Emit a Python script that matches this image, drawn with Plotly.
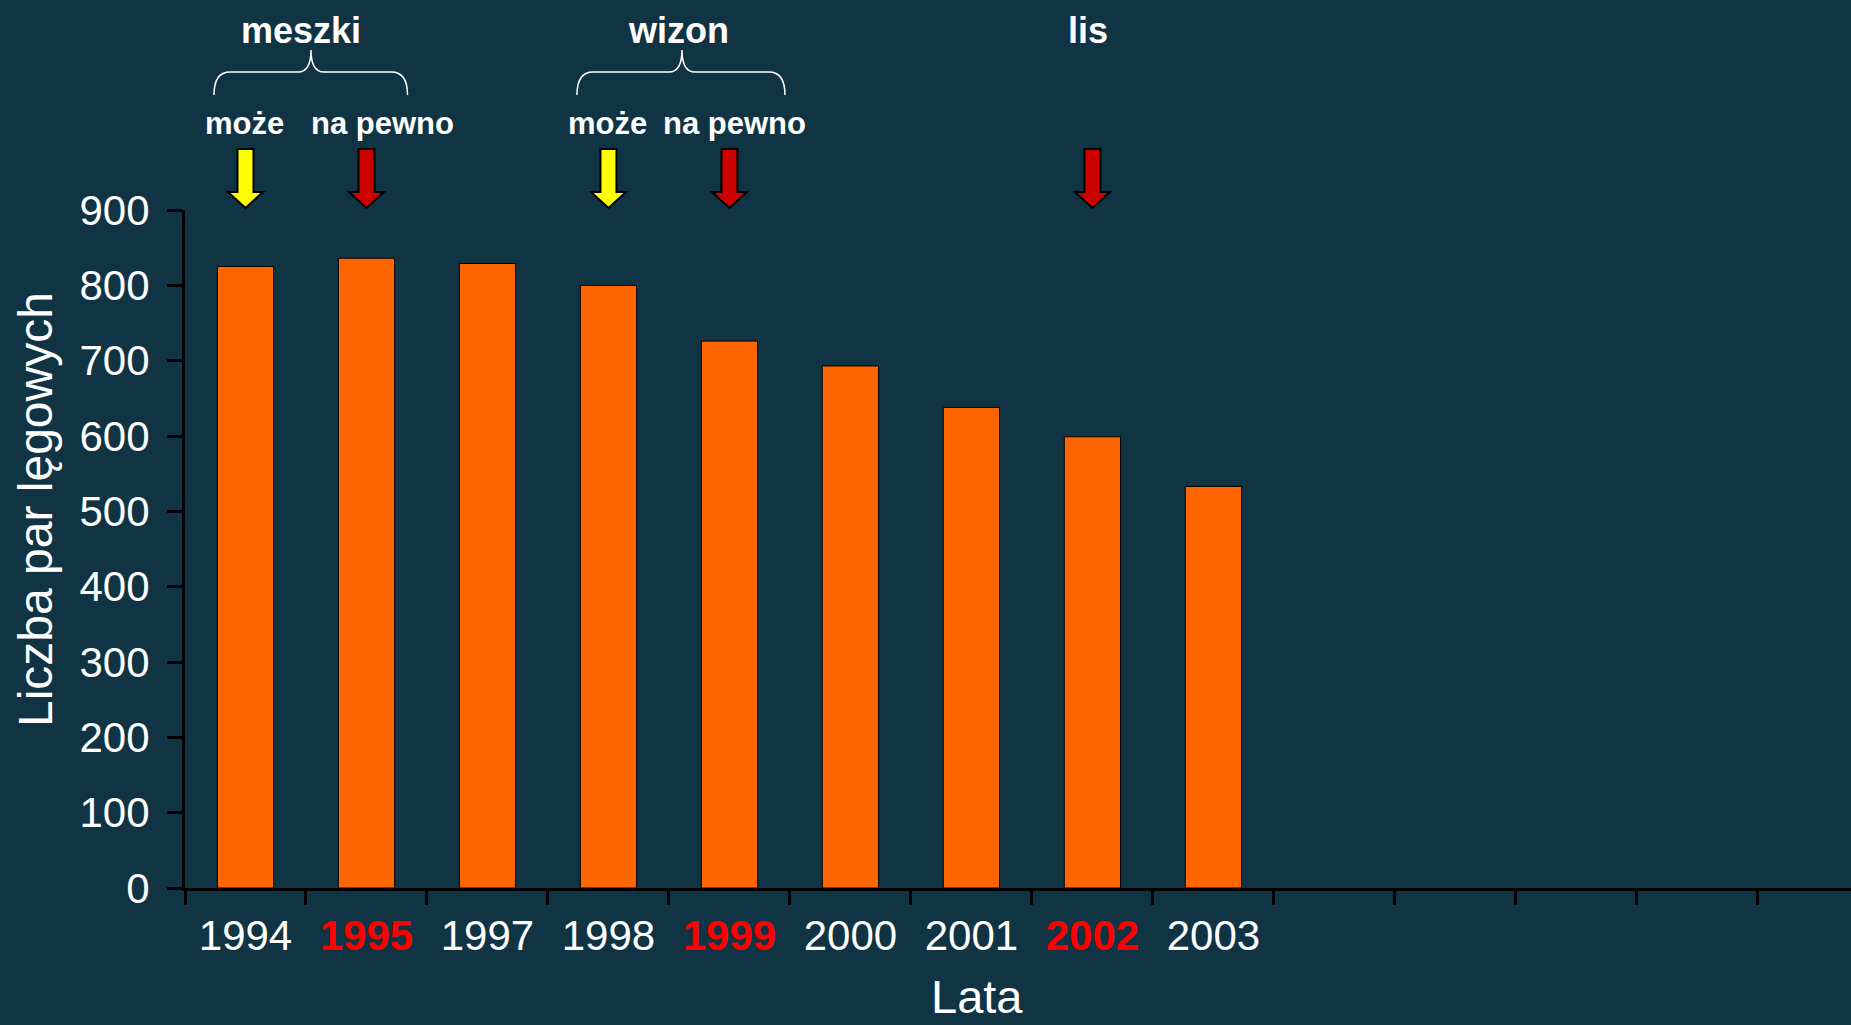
import plotly.graph_objects as go

# dane
lata = ["1994", "1995", "1997", "1998", "1999", "2000", "2001", "2002", "2003"]
pary = [825, 836, 829, 800, 726, 693, 638, 599, 533]
lata_wyrozn = ["1995", "1999", "2002"]

# strzalki
strzalki_zolte = ["1994", "1998"]
strzalki_czerwone = ["1995", "1999", "2002"]

tlo = "#103444"
font = "Liberation Sans, Arial, sans-serif"
zakres_x = [-0.5, 13.27]

etykiety = [f"<b><span style='color:#FF0000'>{r}</span></b>" if r in lata_wyrozn else r
            for r in lata]
# pozycja kategorii (indeks na osi kategorii)
poz = {r: i for i, r in enumerate(lata)}

fig = go.Figure()
fig.add_bar(x=etykiety, y=pary, marker_color="#FF6600",
            marker_line=dict(color="black", width=1))
# pusta seria dla osi z kreskami podzialki na granicach kategorii
fig.add_scatter(x=[], y=[], xaxis="x2", showlegend=False, hoverinfo="skip")

# strzalki jako ksztalty w pikselach zakotwiczone do kategorii
sciezka = "M -8,61 L 8,61 L 8,18 L 17.5,18 L 0,2 L -17.5,18 L -8,18 Z"
for lst, kolor in [(strzalki_zolte, "#FFFF00"), (strzalki_czerwone, "#CC0000")]:
    for r in lst:
        fig.add_shape(type="path", xref="x", yref="paper", xsizemode="pixel",
                      ysizemode="pixel", xanchor=poz[r], yanchor=1, path=sciezka,
                      fillcolor=kolor, line=dict(color="black", width=2))


def klamra(rok, lewo, srodek, prawo):
    p = (f"M {lewo},115 Q {lewo},138 {lewo+16},138 L {srodek-13},138 "
         f"Q {srodek},138 {srodek},160 Q {srodek},138 {srodek+13},138 "
         f"L {prawo-16},138 Q {prawo},138 {prawo},115")
    fig.add_shape(type="path", xref="x", yref="paper", xsizemode="pixel",
                  ysizemode="pixel", xanchor=poz[rok], yanchor=1, path=p,
                  line=dict(color="white", width=1.5))


klamra("1994", -31.5, 65.5, 162)
klamra("1998", -31.5, 73.5, 176.5)


def napis(tekst, rok, dx, dy, rozmiar):
    fig.add_annotation(text=f"<b>{tekst}</b>", x=poz[rok], xref="x", y=1, yref="paper",
                       xshift=dx, yshift=dy, showarrow=False, xanchor="center",
                       yanchor="middle",
                       font=dict(size=rozmiar, color="white", family=font))


napis("meszki", "1994", 55.5, 180, 36)
napis("wizon", "1998", 70.5, 180, 36)
napis("lis", "2002", -4, 180, 36)
napis("może", "1994", -1, 87, 31)
napis("na pewno", "1995", 16.5, 87, 31)
napis("może", "1998", -1, 87, 31)
napis("na pewno", "1999", 5.5, 87, 31)

fig.add_annotation(text="Liczba par lęgowych", textangle=-90, x=0, xref="paper",
                   xshift=-150, y=0.5575, yref="paper", showarrow=False,
                   xanchor="center", yanchor="middle",
                   font=dict(size=48, color="white", family=font))
fig.add_annotation(text="Lata", x=0.4754, xref="paper", y=0, yref="paper",
                   yshift=-136, showarrow=False, xanchor="center", yanchor="bottom",
                   borderpad=0, font=dict(size=47, color="white", family=font))

fig.update_layout(
    width=1851, height=1025,
    margin=dict(l=185, r=0, t=210, b=137),
    paper_bgcolor=tlo, plot_bgcolor=tlo,
    bargap=0.535, showlegend=False,
    font=dict(family=font, color="white"),
    xaxis2=dict(overlaying="x", anchor="y", side="bottom", range=zakres_x,
                tick0=-0.5, dtick=1, ticks="outside", ticklen=16, tickwidth=3,
                tickcolor="black", showticklabels=False, showgrid=False,
                zeroline=False, showline=False),
)
fig.layout.xaxis.update(type="category", range=zakres_x, tickmode="linear", dtick=1,
                        ticks="", showline=True, linecolor="black", linewidth=3,
                        showgrid=False, zeroline=False, ticklabelstandoff=9,
                        tickfont=dict(size=42, color="white", family=font))
fig.update_yaxes(range=[0, 900], dtick=100, ticks="outside", ticklen=15, tickwidth=3,
                 tickcolor="black", showline=True, linecolor="black", linewidth=3,
                 showgrid=False, zeroline=False, ticklabelstandoff=9,
                 tickfont=dict(size=42, color="white", family=font))

fig.write_html("out.html", config={"displayModeBar": False},
               post_script="document.body.style.margin='0';")
